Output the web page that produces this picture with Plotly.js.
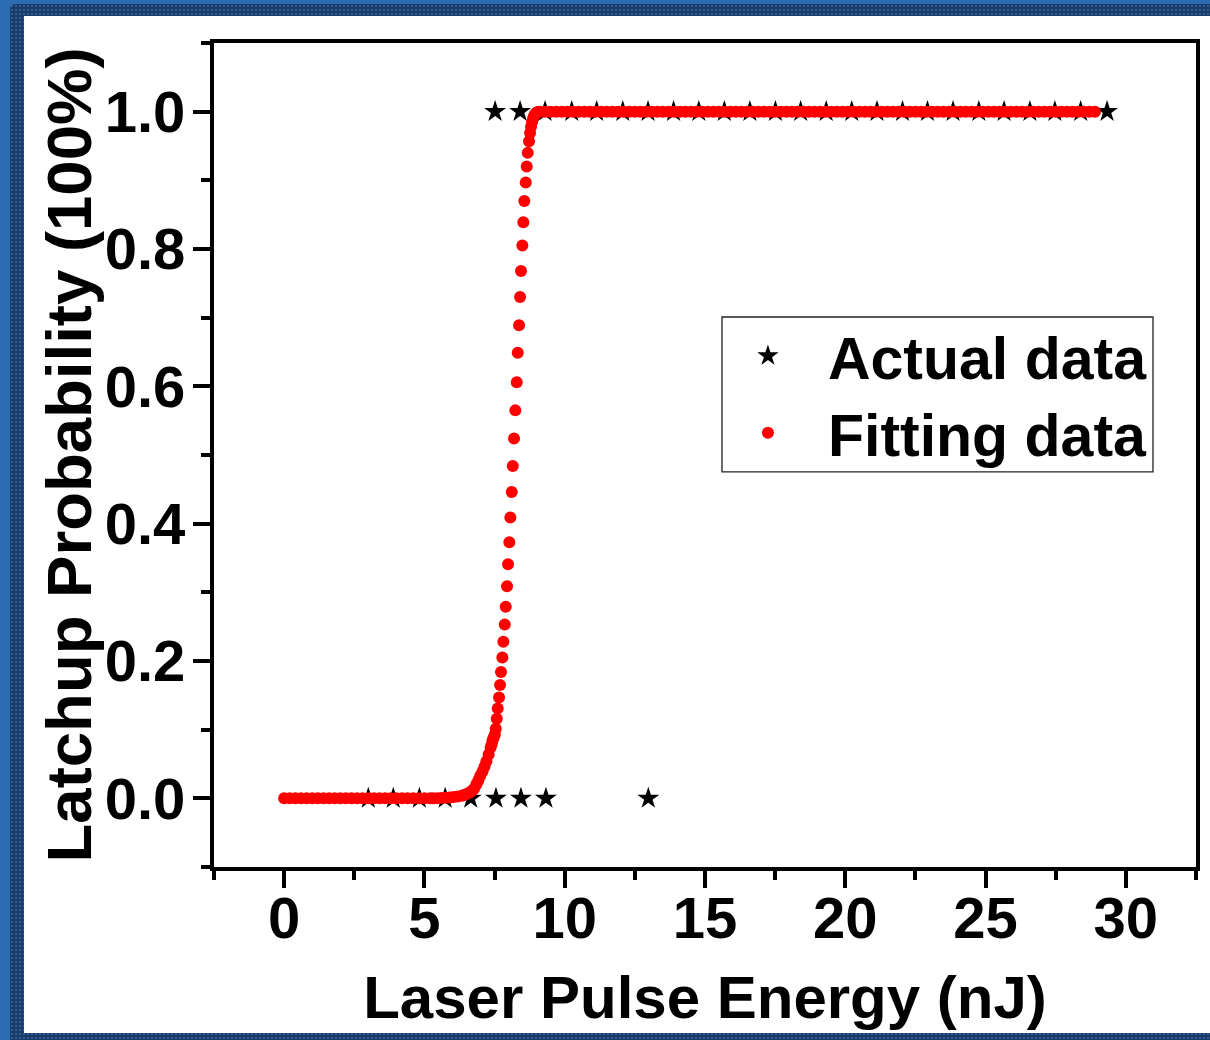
<!DOCTYPE html>
<html>
<head>
<meta charset="utf-8">
<script src="https://cdn.plot.ly/plotly-3.0.1.min.js"></script>
<style>
  html, body { margin: 0; padding: 0; width: 1210px; height: 1040px; overflow: hidden; background: #2c6cb0; }
  #dark { position: absolute; left: 10px; top: 4px; width: 1200px; height: 1036px; background-color: #1b3b68;
          background-image: radial-gradient(circle, #2d5f98 0.8px, rgba(0,0,0,0) 1.1px); background-size: 4px 4px; border-top-left-radius: 5px; }
  #white { position: absolute; left: 24px; top: 16px; width: 1186px; height: 1017px; background: #ffffff; }
  #chart { position: absolute; left: 0; top: 0; width: 1210px; height: 1040px; }
</style>
</head>
<body>
<div id="dark"></div>
<div id="white"></div>
<div id="chart"></div>
<script>
// ---- Actual data (stars) ----
const actualX = [3.00, 3.89, 4.82, 5.74, 6.65, 7.55, 8.44, 9.33, 12.98,
  7.52, 8.41, 9.30, 10.25, 11.14, 12.07, 12.97, 13.88, 14.78, 15.69, 16.60, 17.51, 18.41,
  19.32, 20.23, 21.13, 22.04, 22.93, 23.84, 24.76, 25.66, 26.58, 27.47, 28.39, 29.33];
const actualY = [0, 0, 0, 0, 0, 0, 0, 0, 0,
  1, 1, 1, 1, 1, 1, 1, 1, 1, 1, 1, 1, 1,
  1, 1, 1, 1, 1, 1, 1, 1, 1, 1, 1, 1];

// ---- Fitting data (red dots) ----
const fitLowX = [0, 0.2, 0.4, 0.6, 0.8, 1, 1.2, 1.4, 1.6, 1.8, 2, 2.2, 2.4, 2.6, 2.8, 3, 3.2, 3.4, 3.6, 3.8, 4, 4.2, 4.4, 4.6, 4.8, 5, 5.2];
const fitLowY = [0, 0, 0, 0, 0, 0, 0, 0, 0, 0, 0, 0, 0, 0, 0, 0, 0, 0, 0, 0, 0, 0, 0, 0, 0, 0, 0];
const fitTailX = [5.31, 5.46, 5.60, 5.75, 5.90, 6.04, 6.19, 6.34, 6.41, 6.48, 6.56, 6.63, 6.70, 6.77, 6.85, 6.92, 6.99, 7.07, 7.14, 7.21, 7.29, 7.36, 7.40, 7.43, 7.47, 7.51];
const fitTailY = [0.0001, 0.0003, 0.0005, 0.0008, 0.0012, 0.0018, 0.0025, 0.0038, 0.0048, 0.006, 0.0075, 0.009, 0.011, 0.014, 0.020, 0.026, 0.033, 0.039, 0.046, 0.054, 0.064, 0.074, 0.079, 0.0845, 0.089, 0.093];
const fitStepX = [7.542, 7.578, 7.613, 7.659, 7.695, 7.730, 7.777, 7.813, 7.863, 7.898, 7.944, 7.980, 8.026, 8.062, 8.112, 8.148, 8.194, 8.240, 8.290, 8.326, 8.372, 8.408, 8.443, 8.490, 8.525, 8.561, 8.611, 8.646, 8.682, 8.728, 8.764, 8.800, 8.837, 8.873, 8.910, 8.946, 8.983, 9.019, 9.056];
const fitStepY = [0.1015, 0.116, 0.131, 0.147, 0.165, 0.184, 0.205, 0.228, 0.253, 0.279, 0.309, 0.341, 0.373, 0.409, 0.446, 0.484, 0.524, 0.565, 0.606, 0.649, 0.689, 0.730, 0.768, 0.805, 0.839, 0.870, 0.897, 0.920, 0.940, 0.957, 0.969, 0.978, 0.985, 0.990, 0.994, 0.9965, 0.998, 0.999, 0.9995];
const fitHighX = [9.1, 9.3, 9.5, 9.7, 9.9, 10.1, 10.3, 10.5, 10.7, 10.9, 11.1, 11.3, 11.5, 11.7, 11.9, 12.1, 12.3, 12.5, 12.7, 12.9,
  13.1, 13.3, 13.5, 13.7, 13.9, 14.1, 14.3, 14.5, 14.7, 14.9, 15.1, 15.3, 15.5, 15.7, 15.9, 16.1, 16.3, 16.5, 16.7, 16.9,
  17.1, 17.3, 17.5, 17.7, 17.9, 18.1, 18.3, 18.5, 18.7, 18.9, 19.1, 19.3, 19.5, 19.7, 19.9, 20.1, 20.3, 20.5, 20.7, 20.9,
  21.1, 21.3, 21.5, 21.7, 21.9, 22.1, 22.3, 22.5, 22.7, 22.9, 23.1, 23.3, 23.5, 23.7, 23.9, 24.1, 24.3, 24.5, 24.7, 24.9,
  25.1, 25.3, 25.5, 25.7, 25.9, 26.1, 26.3, 26.5, 26.7, 26.9, 27.1, 27.3, 27.5, 27.7, 27.9, 28.1, 28.3, 28.5, 28.7, 28.9];
const fitHighY = [1, 1, 1, 1, 1, 1, 1, 1, 1, 1, 1, 1, 1, 1, 1, 1, 1, 1, 1, 1,
  1, 1, 1, 1, 1, 1, 1, 1, 1, 1, 1, 1, 1, 1, 1, 1, 1, 1, 1, 1,
  1, 1, 1, 1, 1, 1, 1, 1, 1, 1, 1, 1, 1, 1, 1, 1, 1, 1, 1, 1,
  1, 1, 1, 1, 1, 1, 1, 1, 1, 1, 1, 1, 1, 1, 1, 1, 1, 1, 1, 1,
  1, 1, 1, 1, 1, 1, 1, 1, 1, 1, 1, 1, 1, 1, 1, 1, 1, 1, 1, 1];

const fitX = fitLowX.concat(fitTailX, fitStepX, fitHighX);
const fitY = fitLowY.concat(fitTailY, fitStepY, fitHighY);

const seriesNames = ['Actual data', 'Fitting data'];
const xTitle = 'Laser Pulse Energy (nJ)';
const yTitle = 'Latchup Probability (100%)';

const FONT = 'Liberation Sans, Arial, Helvetica, sans-serif';

const traces = [
  {
    x: actualX, y: actualY, type: 'scatter', mode: 'markers', name: seriesNames[0], legend: 'legend',
    marker: { symbol: 'star', size: 16.5, color: '#000000', line: { width: 0 } },
    cliponaxis: false
  },
  {
    x: fitX, y: fitY, type: 'scatter', mode: 'markers', name: seriesNames[1], legend: 'legend2',
    marker: { symbol: 'circle', size: 12, color: '#ff0000', line: { width: 0 } }
  }
];

const axisCommon = {
  showline: true, linewidth: 4, linecolor: '#000000', mirror: true,
  showgrid: false, zeroline: false,
  ticks: 'outside', tickwidth: 4, tickcolor: '#000000',
  tickfont: { family: FONT, size: 58, weight: 'bold', color: '#000000' }
};

const legendCommon = {
  xanchor: 'left', yanchor: 'middle',
  bgcolor: 'rgba(0,0,0,0)', borderwidth: 0,
  itemwidth: 110,
  font: { family: FONT, size: 59, weight: 'bold', color: '#000000' }
};

const layout = {
  width: 1210, height: 1040,
  paper_bgcolor: 'rgba(0,0,0,0)',
  plot_bgcolor: '#ffffff',
  margin: { l: 214, r: 14, t: 43, b: 173, pad: 0 },
  showlegend: true,
  xaxis: Object.assign({}, axisCommon, {
    range: [-2.5, 32.5], tick0: 0, dtick: 5, ticklen: 17, ticklabelstandoff: -20,
    minor: { ticks: 'outside', tick0: 0, dtick: 2.5, ticklen: 9, tickwidth: 4, tickcolor: '#000000' },
    title: { text: xTitle, standoff: 28, font: { family: FONT, size: 60, weight: 'bold', color: '#000000' } }
  }),
  yaxis: Object.assign({}, axisCommon, {
    range: [-0.1, 1.1], tick0: 0, dtick: 0.2, tickformat: '.1f', ticklen: 17, ticklabelstandoff: -4,
    minor: { ticks: 'outside', tick0: 0, dtick: 0.1, ticklen: 9, tickwidth: 4, tickcolor: '#000000' }
  }),
  annotations: [
    { text: yTitle, xref: 'paper', yref: 'paper', x: -0.1472, y: 0.5, xanchor: 'center', yanchor: 'middle',
      textangle: -90, showarrow: false,
      font: { family: FONT, size: 63.5, weight: 'bold', color: '#000000' } }
  ],
  legend: Object.assign({}, legendCommon, { x: 0.503, y: 0.6202 }),
  legend2: Object.assign({}, legendCommon, { x: 0.503, y: 0.5267 }),
  shapes: [
    { type: 'rect', xref: 'paper', yref: 'paper', x0: 0.5173, x1: 0.9562, y0: 0.4794, y1: 0.6675,
      line: { color: '#222222', width: 1.3 }, fillcolor: '#ffffff', layer: 'above' }
  ]
};

Plotly.newPlot('chart', traces, layout, { displayModeBar: false, staticPlot: true });
</script>
</body>
</html>
